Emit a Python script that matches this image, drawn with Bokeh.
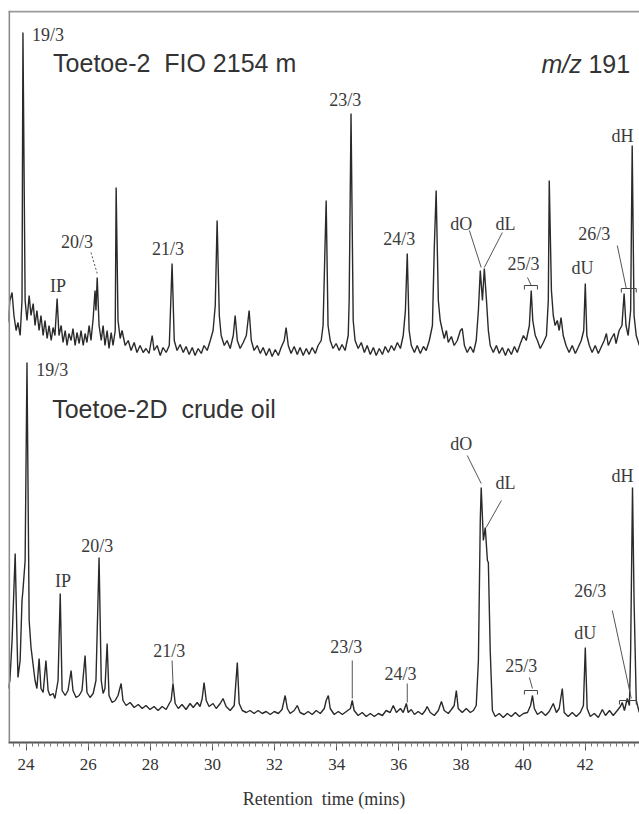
import numpy as np
from bokeh.plotting import figure
from bokeh.models import ColumnDataSource, Span, SingleIntervalTicker, Label
from bokeh.embed import file_html
from bokeh.resources import INLINE
from bokeh.core.properties import value

# ---------------- data (retention time in mins, relative signal) ----------------
upper_trace = [
    (23.42, 38), (23.48, 60), (23.55, 68), (23.61, 45), (23.68, 30), (23.74, 38), (23.81, 25),
    (23.87, 60), (23.90, 328), (23.97, 60), (24.03, 40), (24.10, 65), (24.16, 45), (24.23, 57),
    (24.29, 35), (24.35, 50), (24.42, 30), (24.48, 45), (24.55, 25), (24.61, 40), (24.68, 22),
    (24.74, 35), (24.81, 20), (24.87, 33), (24.93, 25), (25.00, 62), (25.06, 25), (25.13, 35),
    (25.19, 18), (25.26, 30), (25.32, 15), (25.38, 27), (25.45, 20), (25.51, 32), (25.58, 15),
    (25.64, 28), (25.71, 17), (25.77, 30), (25.84, 15), (25.90, 27), (25.96, 18), (26.03, 35),
    (26.09, 20), (26.16, 42), (26.22, 70), (26.25, 50), (26.29, 83), (26.35, 35), (26.42, 20),
    (26.48, 35), (26.54, 15), (26.61, 30), (26.67, 12), (26.74, 28), (26.80, 15), (26.87, 30),
    (26.90, 173), (26.96, 40), (27.03, 22), (27.09, 30), (27.19, 15), (27.29, 20), (27.38, 10),
    (27.48, 18), (27.57, 8), (27.67, 15), (27.77, 8), (27.86, 12), (27.96, 7), (28.06, 25),
    (28.12, 10), (28.22, 15), (28.32, 5), (28.41, 13), (28.51, 8), (28.61, 15), (28.70, 97),
    (28.77, 20), (28.86, 10), (28.96, 16), (29.06, 8), (29.15, 14), (29.25, 6), (29.35, 13),
    (29.44, 5), (29.54, 12), (29.64, 7), (29.73, 15), (29.83, 10), (29.93, 20), (30.02, 30),
    (30.09, 55), (30.15, 140), (30.22, 45), (30.28, 25), (30.38, 15), (30.47, 20), (30.57, 12),
    (30.67, 25), (30.73, 45), (30.80, 20), (30.89, 12), (30.99, 18), (31.09, 25), (31.18, 50),
    (31.25, 20), (31.34, 10), (31.44, 15), (31.54, 7), (31.63, 13), (31.73, 5), (31.83, 12),
    (31.92, 4), (32.02, 11), (32.12, 5), (32.21, 13), (32.31, 20), (32.37, 33), (32.44, 15),
    (32.53, 7), (32.63, 14), (32.73, 6), (32.82, 13), (32.92, 5), (33.02, 12), (33.11, 6),
    (33.21, 13), (33.31, 7), (33.40, 15), (33.50, 20), (33.56, 35), (33.66, 160), (33.72, 35),
    (33.79, 20), (33.88, 12), (33.98, 17), (34.08, 10), (34.17, 16), (34.27, 10), (34.37, 25),
    (34.40, 60), (34.46, 247), (34.53, 40), (34.59, 20), (34.69, 12), (34.79, 18), (34.89, 8),
    (34.98, 15), (35.08, 6), (35.18, 13), (35.27, 5), (35.37, 12), (35.47, 6), (35.56, 14),
    (35.66, 8), (35.76, 15), (35.85, 10), (35.95, 18), (36.05, 12), (36.14, 25), (36.21, 50),
    (36.27, 107), (36.33, 30), (36.40, 15), (36.50, 8), (36.59, 15), (36.69, 7), (36.79, 14),
    (36.88, 10), (36.98, 20), (37.08, 35), (37.14, 113), (37.20, 170), (37.27, 60), (37.33, 40),
    (37.40, 30), (37.46, 22), (37.53, 30), (37.59, 18), (37.69, 24), (37.78, 15), (37.88, 20),
    (37.98, 30), (38.04, 32), (38.11, 15), (38.20, 8), (38.30, 14), (38.40, 8), (38.49, 20),
    (38.56, 50), (38.62, 90), (38.69, 60), (38.75, 92), (38.82, 60), (38.88, 30), (38.94, 15),
    (39.04, 8), (39.14, 15), (39.23, 7), (39.33, 13), (39.43, 5), (39.52, 12), (39.62, 6),
    (39.72, 14), (39.81, 8), (39.91, 17), (40.01, 25), (40.10, 20), (40.20, 35), (40.26, 70),
    (40.31, 40), (40.39, 25), (40.46, 20), (40.55, 12), (40.65, 18), (40.75, 25), (40.81, 60),
    (40.84, 180), (40.91, 70), (40.97, 45), (41.03, 35), (41.10, 40), (41.16, 30), (41.22, 43),
    (41.29, 25), (41.38, 15), (41.48, 8), (41.58, 15), (41.68, 7), (41.77, 13), (41.87, 20),
    (41.95, 30), (42.00, 77), (42.05, 25), (42.13, 15), (42.22, 8), (42.32, 15), (42.42, 7),
    (42.52, 14), (42.61, 20), (42.68, 27), (42.74, 15), (42.84, 22), (42.93, 27), (42.99, 17),
    (43.09, 30), (43.18, 35), (43.25, 67), (43.31, 35), (43.38, 25), (43.46, 50), (43.51, 215),
    (43.57, 45), (43.64, 25), (43.74, 15),
]

lower_trace = [
    (23.42, 37), (23.48, 45), (23.55, 85), (23.65, 172), (23.71, 85), (23.74, 48), (23.81, 65),
    (23.87, 125), (23.90, 135), (23.97, 165), (24.03, 363), (24.10, 105), (24.16, 78), (24.23, 60),
    (24.29, 45), (24.35, 37), (24.42, 67), (24.48, 37), (24.55, 33), (24.64, 65), (24.71, 35),
    (24.77, 30), (24.87, 32), (24.93, 27), (25.03, 45), (25.10, 132), (25.16, 35), (25.26, 30),
    (25.35, 35), (25.45, 55), (25.51, 35), (25.61, 28), (25.71, 30), (25.80, 35), (25.90, 70),
    (25.96, 33), (26.06, 28), (26.16, 32), (26.25, 45), (26.35, 168), (26.42, 45), (26.48, 32),
    (26.54, 37), (26.61, 82), (26.67, 30), (26.77, 23), (26.87, 25), (26.96, 30), (27.06, 42),
    (27.12, 25), (27.22, 20), (27.35, 23), (27.48, 18), (27.61, 21), (27.74, 17), (27.86, 20),
    (27.99, 16), (28.12, 19), (28.25, 15), (28.38, 19), (28.51, 16), (28.61, 22), (28.67, 25),
    (28.73, 42), (28.80, 22), (28.90, 17), (29.02, 21), (29.15, 16), (29.28, 22), (29.38, 18),
    (29.51, 23), (29.60, 19), (29.67, 27), (29.73, 43), (29.80, 25), (29.89, 19), (30.02, 22),
    (30.12, 17), (30.25, 22), (30.34, 27), (30.44, 19), (30.57, 15), (30.70, 20), (30.80, 63),
    (30.86, 22), (30.96, 15), (31.09, 13), (31.21, 15), (31.34, 12), (31.47, 15), (31.60, 12),
    (31.73, 14), (31.86, 11), (31.99, 14), (32.12, 12), (32.24, 16), (32.34, 30), (32.41, 17),
    (32.50, 12), (32.63, 15), (32.73, 20), (32.82, 13), (32.95, 11), (33.08, 14), (33.21, 11),
    (33.34, 15), (33.47, 12), (33.60, 17), (33.66, 25), (33.73, 30), (33.79, 17), (33.92, 11),
    (34.05, 14), (34.18, 11), (34.31, 14), (34.44, 17), (34.50, 25), (34.56, 15), (34.69, 10),
    (34.82, 13), (34.95, 9), (35.08, 12), (35.21, 9), (35.34, 12), (35.47, 10), (35.59, 15),
    (35.72, 13), (35.82, 20), (35.92, 13), (36.05, 17), (36.14, 13), (36.24, 22), (36.30, 13),
    (36.40, 16), (36.50, 11), (36.62, 14), (36.75, 11), (36.85, 15), (36.91, 19), (37.01, 13),
    (37.14, 10), (37.27, 15), (37.37, 24), (37.46, 15), (37.59, 12), (37.69, 16), (37.78, 20),
    (37.85, 35), (37.91, 17), (38.04, 13), (38.17, 17), (38.30, 13), (38.40, 15), (38.49, 20),
    (38.56, 65), (38.62, 205), (38.65, 238), (38.72, 185), (38.78, 198), (38.85, 165), (38.88, 163),
    (38.94, 75), (39.01, 15), (39.10, 9), (39.23, 12), (39.36, 8), (39.49, 12), (39.62, 9),
    (39.75, 13), (39.88, 9), (40.01, 12), (40.14, 13), (40.24, 20), (40.30, 30), (40.36, 17),
    (40.46, 11), (40.59, 14), (40.72, 10), (40.84, 14), (40.97, 22), (41.07, 13), (41.16, 17),
    (41.26, 37), (41.32, 13), (41.45, 9), (41.58, 13), (41.71, 9), (41.84, 13), (41.94, 20),
    (42.00, 78), (42.06, 17), (42.16, 9), (42.29, 12), (42.42, 8), (42.55, 16), (42.65, 10),
    (42.78, 15), (42.90, 10), (43.03, 15), (43.13, 19), (43.19, 23), (43.26, 15), (43.35, 27),
    (43.42, 20), (43.46, 75), (43.52, 238), (43.57, 125), (43.64, 25), (43.74, 13),
]

UPPER_OFFSET = 382   # vertical stacking of the two chromatograms
LOWER_OFFSET = 17

tick_interval = 2

# peak labels: (text, time, height)
upper_labels = [("19/3", 24.71, 708), ("IP", 25.03, 457), ("20/3", 25.64, 501), ("21/3", 28.57, 494),
                ("23/3", 34.27, 643), ("24/3", 36.01, 504), ("dO", 38.01, 519), ("dL", 39.43, 519),
                ("25/3", 40.01, 479), ("dU", 41.91, 475), ("26/3", 42.29, 509)]
lower_labels = [("19/3", 24.84, 373), ("IP", 25.19, 162), ("20/3", 26.29, 197), ("21/3", 28.61, 92),
                ("23/3", 34.31, 96), ("24/3", 36.05, 69), ("dO", 38.01, 299), ("dL", 39.43, 260),
                ("25/3", 39.94, 77), ("dU", 42.00, 110), ("26/3", 42.16, 152)]
dh_labels = [("dH", 42.84, 607), ("dH", 42.84, 267)]

# leader lines (x0, y0, x1, y1)
leaders = [(38.27, 512, 38.65, 475), (39.33, 510, 38.75, 475), (40.14, 465, 40.26, 457),
           (43.03, 497, 43.32, 454),
           (28.70, 82, 28.73, 59), (34.50, 82, 34.50, 44), (36.27, 59, 36.27, 40),
           (38.20, 287, 38.65, 259), (39.30, 242, 38.81, 215), (40.20, 65, 40.30, 54),
           (42.87, 132, 43.48, 44)]
dashed_leaders = [(26.09, 490, 26.29, 469)]
brackets = [(40.04, 40.46, 457), (43.16, 43.64, 454), (40.04, 40.46, 52), (43.10, 43.64, 42)]

NB = "\u00a0"

# ---------------- figure ----------------
X0, X1 = 23.435, 43.745
p = figure(width=639, height=814, x_range=(X0, X1), y_range=(0, 732),
           min_border_left=8, min_border_right=0, min_border_top=10, min_border_bottom=72,
           y_axis_location=None, output_backend="svg", toolbar_location=None)
p.outline_line_color = None
p.xgrid.visible = False
p.ygrid.visible = False
p.background_fill_color = "white"
p.border_fill_color = "white"

ut = [a for a, b in upper_trace]
ui = np.array([b for a, b in upper_trace]) + UPPER_OFFSET
lt = [a for a, b in lower_trace]
li = np.array([b for a, b in lower_trace]) + LOWER_OFFSET
p.line(ut, ui, line_color="#2a2a2a", line_width=1.4)
p.line(lt, li, line_color="#2a2a2a", line_width=1.4)

# frame lines (top and left)
p.add_layout(Span(location=731.0, dimension="width", line_color="#9a9a9a", line_width=2))
p.add_layout(Span(location=X0 + 0.02, dimension="height", line_color="#8a8a8a", line_width=2))

# leader lines and brackets
p.segment([l[0] for l in leaders], [l[1] for l in leaders], [l[2] for l in leaders], [l[3] for l in leaders],
          line_color="#555555", line_width=1)
p.segment([l[0] for l in dashed_leaders], [l[1] for l in dashed_leaders],
          [l[2] for l in dashed_leaders], [l[3] for l in dashed_leaders],
          line_color="#555555", line_width=1, line_dash="2 2")
p.segment([b[0] for b in brackets], [b[2] for b in brackets], [b[1] for b in brackets], [b[2] for b in brackets],
          line_color="#444444", line_width=1)
p.segment([b[0] for b in brackets] + [b[1] for b in brackets], [b[2] for b in brackets] * 2,
          [b[0] for b in brackets] + [b[1] for b in brackets], [b[2] - 4 for b in brackets] * 2,
          line_color="#444444", line_width=1)

labs = upper_labels + lower_labels
src = ColumnDataSource(dict(x=[l[1] for l in labs], y=[l[2] for l in labs], t=[l[0] for l in labs]))
p.text(x="x", y="y", text="t", source=src, text_font=value("Liberation Serif"), text_font_size="18px",
       text_color="#3a3a3a", text_align="center", text_baseline="middle")
src2 = ColumnDataSource(dict(x=[l[1] for l in dh_labels], y=[l[2] for l in dh_labels], t=[l[0] for l in dh_labels]))
p.text(x="x", y="y", text="t", source=src2, text_font=value("Liberation Serif"), text_font_size="18px",
       text_color="#3a3a3a", text_align="left", text_baseline="middle")

# titles
for txt, x, y, style in [("Toetoe-2" + NB + NB + "FIO 2154 m", 24.87, 680, "normal"),
                         ("Toetoe-2D" + NB + NB + "crude oil", 24.84, 334, "normal"),
                         ("m/z", 40.59, 679, "italic"),
                         ("191", 42.10, 679, "normal")]:
    p.add_layout(Label(x=x, y=y, text=txt, text_font="Liberation Sans", text_font_size="25px",
                       text_font_style=style, text_color="#333333", text_baseline="middle",
                       text_align="left"))

# x axis
ax = p.xaxis[0]
ax.ticker = SingleIntervalTicker(interval=tick_interval, num_minor_ticks=10)
ax.axis_line_color = "#555555"
ax.axis_line_width = 2
ax.major_tick_in = 0
ax.major_tick_out = 8
ax.minor_tick_in = 0
ax.minor_tick_out = 4
ax.major_tick_line_color = "#555555"
ax.minor_tick_line_color = "#777777"
ax.major_label_text_font = "Liberation Serif"
ax.major_label_text_font_size = "17px"
ax.major_label_text_color = "#333333"
ax.major_label_standoff = 8
ax.axis_label = "Retention" + NB + NB + "time (mins)"
ax.axis_label_text_font = "Liberation Serif"
ax.axis_label_text_font_size = "18px"
ax.axis_label_text_font_style = "normal"
ax.axis_label_text_color = "#333333"
ax.axis_label_standoff = 16

open("out.html", "w").write(file_html(p, INLINE))
